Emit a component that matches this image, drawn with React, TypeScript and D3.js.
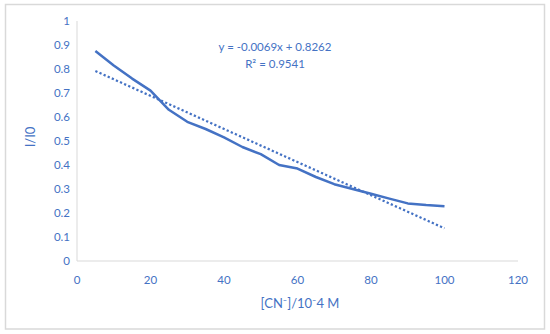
import React from "react";
import * as d3 from "d3";

const xValues = [5, 10, 15, 20, 25, 30, 35, 40, 45, 50, 55, 60, 65, 70, 75, 80, 85, 90, 95, 100];
const yValues = [0.875, 0.815, 0.76, 0.71, 0.63, 0.58, 0.55, 0.515, 0.475, 0.445, 0.40, 0.385, 0.35, 0.32, 0.30, 0.28, 0.26, 0.24, 0.233, 0.228];
const trendSlope = -0.0069;
const trendIntercept = 0.8262;
const xTicks = [0, 20, 40, 60, 80, 100, 120];
const yTicks = [0, 0.1, 0.2, 0.3, 0.4, 0.5, 0.6, 0.7, 0.8, 0.9, 1];
const equationText = "y = -0.0069x + 0.8262";
const r2Text = "R² = 0.9541";
const xTitle = "[CN⁻]/10⁻4 M";
const yTitle = "I/I0";

const W = 550, H = 334;
const BLUE = "#4472C4";
const FONT = "Lato, 'Open Sans', sans-serif";

export default function App() {
  const x = d3.scaleLinear().domain([0, 120]).range([77, 518]);
  const y = d3.scaleLinear().domain([0, 1]).range([261, 21]);
  const pts = xValues.map((v, i) => [x(v), y(yValues[i])] as [number, number]);
  const line = d3.line()(pts) || "";
  const tx0 = xValues[0], tx1 = xValues[xValues.length - 1];
  const trend = d3.line()([
    [x(tx0), y(trendSlope * tx0 + trendIntercept)],
    [x(tx1), y(trendSlope * tx1 + trendIntercept)],
  ]) || "";
  return (
    <svg width={W} height={H} style={{ position: "absolute", left: 0, top: 0 }} fontFamily={FONT}>
      <rect x={0} y={0} width={W} height={H} fill="#fff" />
      <rect x={5.5} y={4.5} width={539} height={324.5} fill="#fff" stroke="#d9d9d9" strokeWidth={1.5} />
      <line x1={x(0)} x2={x(120)} y1={y(0)} y2={y(0)} stroke="#d9d9d9" strokeWidth={1} />
      <line x1={x(0)} x2={x(0)} y1={y(0)} y2={y(1)} stroke="#d9d9d9" strokeWidth={1} />
      {yTicks.map((t) => (
        <text key={t} x={70} y={y(t)} dy="0.35em" textAnchor="end" fontSize={11.5} fill={BLUE}>
          {d3.format("~g")(t)}
        </text>
      ))}
      {xTicks.map((t) => (
        <text key={t} x={x(t)} y={280} dy="0.35em" textAnchor="middle" fontSize={11.5} fill={BLUE}>
          {t}
        </text>
      ))}
      <text x={300} y={303} dy="0.35em" textAnchor="middle" fontSize={13} fill={BLUE}>{xTitle}</text>
      <text transform={`translate(30,137) rotate(-90)`} dy="0.35em" textAnchor="middle" fontSize={13} fill={BLUE}>{yTitle}</text>
      <path d={trend} fill="none" stroke={BLUE} strokeWidth={2.25} strokeDasharray="2.25 2.25" />
      <path d={line} fill="none" stroke={BLUE} strokeWidth={2.5} strokeLinejoin="round" />
      <text x={275} y={47} dy="0.35em" textAnchor="middle" fontSize={11.5} fill={BLUE}>{equationText}</text>
      <text x={275} y={63.5} dy="0.35em" textAnchor="middle" fontSize={11.5} fill={BLUE}>{r2Text}</text>
    </svg>
  );
}
